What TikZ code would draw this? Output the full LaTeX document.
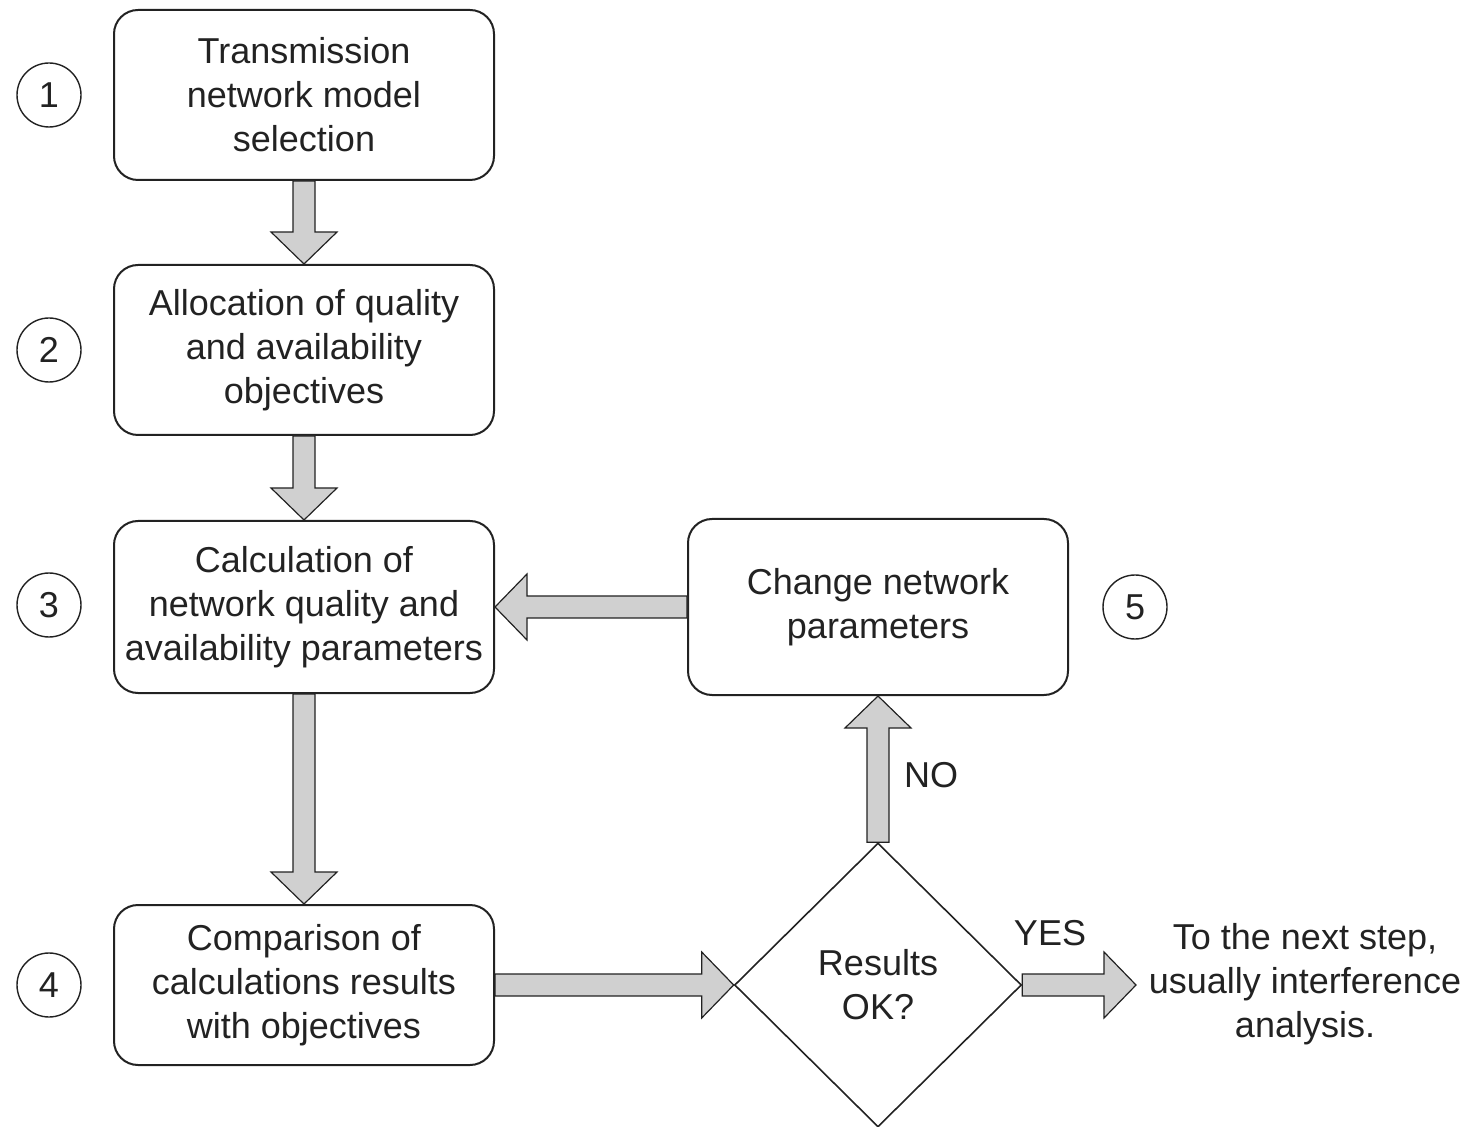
\documentclass[tikz,border=0pt]{standalone}
\usepackage{fontspec}
\setmainfont{Liberation Sans}
\usepackage{xcolor}
\usetikzlibrary{positioning, shapes.geometric, calc}
\definecolor{ArrowGray}{HTML}{D0D0D0}
\definecolor{InkDark}{HTML}{222222}

% fat block arrow from #1 to the tip #2
\newcommand{\fatarrow}[2]{%
  \path ($(#2)!16pt!(#1)$) coordinate (fa-head);
  \draw[blockarrow] ($(#1)!5.5pt!90:(#2)$) -- ($(fa-head)!5.5pt!90:(#2)$) -- ($(fa-head)!16.5pt!90:(#2)$) -- (#2)
    -- ($(fa-head)!16.5pt!-90:(#2)$) -- ($(fa-head)!5.5pt!-90:(#2)$) -- ($(#1)!5.5pt!-90:(#2)$) -- cycle;}

\begin{document}
\begin{tikzpicture}[x=0.5pt, y=-0.5pt, font=\fontsize{18}{22}\selectfont, text=InkDark,
    stepbox/.style={draw=InkDark, line width=1pt, rounded corners=12pt, minimum width=190pt, minimum height=85pt, align=center, inner sep=2pt},
    num/.style={draw=InkDark, circle, line width=0.7pt, minimum size=32pt, inner sep=0pt},
    blockarrow/.style={draw=InkDark, fill=ArrowGray, line width=0.6pt, line join=miter}]
        \useasboundingbox (0,0) rectangle (1471,1127);

        % Nodes
        \node[stepbox] (select) at (304,95) {Transmission\\network model\\selection};
        \node[stepbox] (alloc) at (304,350) {Allocation of quality\\and availability\\objectives};
        \node[stepbox, minimum height=86pt] (compute) at (304,607) {Calculation of\\network quality and\\availability parameters};
        \node[stepbox, minimum height=80pt] (compare) at (304,985) {Comparison of\\calculations results\\with objectives};
        \node[stepbox, minimum height=88pt] (change) at (878,607) {Change network\\parameters};
        \node[draw=InkDark, line width=0.8pt, diamond, minimum width=143.5pt, minimum height=142pt, inner sep=0pt, align=center] (check) at (878,985) {Results\\OK?};
        \node[align=center, inner sep=0pt] (next) at (1305,984) {To the next step,\\usually interference\\analysis.};
        \coordinate (nexttip) at (1136,985);

        % Step numbers
        \node[num] (n1) at (49,95) {1};
        \node[num] (n2) at (49,350) {2};
        \node[num] (n3) at (49,605) {3};
        \node[num] (n4) at (49,985) {4};
        \node[num] (n5) at (1135,607) {5};

        % Arrows
        \fatarrow{select.south}{alloc.north}
        \fatarrow{alloc.south}{compute.north}
        \fatarrow{compute.south}{compare.north}
        \fatarrow{compare.east}{check.west}
        \fatarrow{check.north}{change.south}
        \fatarrow{change.west}{compute.east}
        \fatarrow{check.east}{nexttip}

        % Labels
        \node (no) at (931,775) {NO};
        \node (yes) at (1050,933) {YES};
    \end{tikzpicture}
\end{document}
